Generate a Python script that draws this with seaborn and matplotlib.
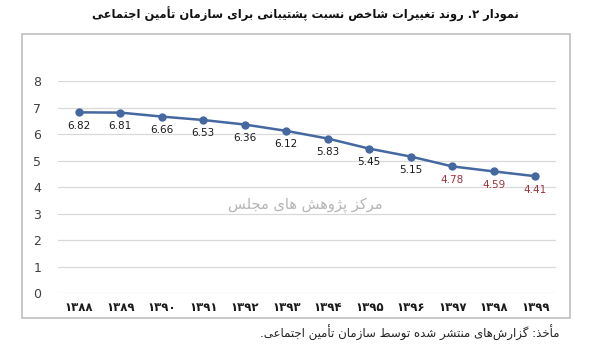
import numpy as np
import pandas as pd
import matplotlib
matplotlib.use("Agg")
import matplotlib.pyplot as plt
import seaborn as sns
from matplotlib.patches import Rectangle

# chart data
years = ["۱۳۸۸", "۱۳۸۹", "۱۳۹۰", "۱۳۹۱", "۱۳۹۲", "۱۳۹۳",
         "۱۳۹۴", "۱۳۹۵", "۱۳۹۶", "۱۳۹۷", "۱۳۹۸", "۱۳۹۹"]
ratio = [6.82, 6.81, 6.66, 6.53, 6.36, 6.12, 5.83, 5.45, 5.15, 4.78, 4.59, 4.41]
highlight = [False] * 9 + [True] * 3
yticks = list(range(0, 9))

title_txt = "نمودار ۲. روند تغییرات شاخص نسبت پشتیبانی برای سازمان تأمین اجتماعی"
source_txt = "مأخذ: گزارش\u200cهای منتشر شده توسط سازمان تأمین اجتماعی."
watermark_txt = "مرکز پژوهش های مجلس"

# minimal Persian shaping (matplotlib has no complex text layout)
FORMS = {
    "ا": (0xFE8D, 0xFE8E), "آ": (0xFE81, 0xFE82), "أ": (0xFE83, 0xFE84),
    "ب": (0xFE8F, 0xFE90, 0xFE91, 0xFE92), "پ": (0xFB56, 0xFB57, 0xFB58, 0xFB59),
    "ت": (0xFE95, 0xFE96, 0xFE97, 0xFE98), "ث": (0xFE99, 0xFE9A, 0xFE9B, 0xFE9C),
    "ج": (0xFE9D, 0xFE9E, 0xFE9F, 0xFEA0), "چ": (0xFB7A, 0xFB7B, 0xFB7C, 0xFB7D),
    "ح": (0xFEA1, 0xFEA2, 0xFEA3, 0xFEA4), "خ": (0xFEA5, 0xFEA6, 0xFEA7, 0xFEA8),
    "د": (0xFEA9, 0xFEAA), "ذ": (0xFEAB, 0xFEAC), "ر": (0xFEAD, 0xFEAE),
    "ز": (0xFEAF, 0xFEB0), "ژ": (0xFB8A, 0xFB8B),
    "س": (0xFEB1, 0xFEB2, 0xFEB3, 0xFEB4), "ش": (0xFEB5, 0xFEB6, 0xFEB7, 0xFEB8),
    "ص": (0xFEB9, 0xFEBA, 0xFEBB, 0xFEBC), "ض": (0xFEBD, 0xFEBE, 0xFEBF, 0xFEC0),
    "ط": (0xFEC1, 0xFEC2, 0xFEC3, 0xFEC4), "ظ": (0xFEC5, 0xFEC6, 0xFEC7, 0xFEC8),
    "ع": (0xFEC9, 0xFECA, 0xFECB, 0xFECC), "غ": (0xFECD, 0xFECE, 0xFECF, 0xFED0),
    "ف": (0xFED1, 0xFED2, 0xFED3, 0xFED4), "ق": (0xFED5, 0xFED6, 0xFED7, 0xFED8),
    "ک": (0xFB8E, 0xFB8F, 0xFB90, 0xFB91), "گ": (0xFB92, 0xFB93, 0xFB94, 0xFB95),
    "ل": (0xFEDD, 0xFEDE, 0xFEDF, 0xFEE0), "م": (0xFEE1, 0xFEE2, 0xFEE3, 0xFEE4),
    "ن": (0xFEE5, 0xFEE6, 0xFEE7, 0xFEE8), "و": (0xFEED, 0xFEEE),
    "ه": (0xFEE9, 0xFEEA, 0xFEEB, 0xFEEC), "ی": (0xFBFC, 0xFBFD, 0xFBFE, 0xFBFF),
}


def fa(text):
    out = []
    for i, c in enumerate(text):
        if c not in FORMS:
            out.append(c)
            continue
        f = FORMS[c]
        prev = text[i - 1] if i > 0 else None
        nxt = text[i + 1] if i + 1 < len(text) else None
        jp = prev in FORMS and len(FORMS[prev]) == 4
        jn = len(f) == 4 and nxt in FORMS
        if jp and jn:
            g = f[3]
        elif jp:
            g = f[1]
        elif jn:
            g = f[2]
        else:
            g = f[0]
        out.append(chr(g))
    return "".join(out).replace("\u200c", "")[::-1]


sns.set_style("white")
plt.rcParams["font.family"] = ["DejaVu Sans"]

df = pd.DataFrame({"pos": np.arange(len(years)), "ratio": ratio})

fig = plt.figure(figsize=(6.11, 3.48), dpi=100)
ax = fig.add_axes([0.095, 0.158, 0.815, 0.609])

sns.lineplot(data=df, x="pos", y="ratio", ax=ax, color="#44689F", linewidth=1.8,
             marker="o", markersize=6, markeredgewidth=0, zorder=3)

for x, y, hl in zip(df["pos"], df["ratio"], highlight):
    ax.annotate(f"{y:.2f}", (x, y), xytext=(0, -6), textcoords="offset points",
                ha="center", va="top", fontsize=7.5,
                color="#A0333A" if hl else "#1a1a1a")

ax.set_xlim(-0.5, 11.5)
ax.set_ylim(0, 8)
ax.set_yticks(yticks)
ax.set_yticklabels([str(v) for v in yticks], fontsize=9, color="#404040")
ax.set_xticks(df["pos"])
ax.set_xticklabels(years, fontsize=8.5, fontweight="bold", color="#1a1a1a")
ax.tick_params(axis="y", length=0, pad=12)
ax.tick_params(axis="x", length=0, pad=6)
ax.set_xlabel("")
ax.set_ylabel("")
ax.yaxis.grid(True, color="#D9D9D9", linewidth=0.9)
ax.set_axisbelow(True)
for s in ax.spines.values():
    s.set_visible(False)

# outer frame
fig.patches.append(Rectangle((22 / 611, 1 - 318 / 348), 548 / 611, 284 / 348,
                             transform=fig.transFigure, fill=False,
                             edgecolor="#BFBFBF", linewidth=1.2))

fig.text(0.5, 1 - 14 / 348, fa(title_txt), ha="center", va="center",
         fontsize=8.3, fontweight="bold", color="#111111")
fig.text(560 / 611, 1 - 333 / 348, fa(source_txt), ha="right", va="center",
         fontsize=8.5, color="#222222")
fig.text(305 / 611, 1 - 205 / 348, fa(watermark_txt), ha="center", va="center",
         fontsize=10.5, color="#B5B5B5")

fig.savefig("out.png", dpi=100)
